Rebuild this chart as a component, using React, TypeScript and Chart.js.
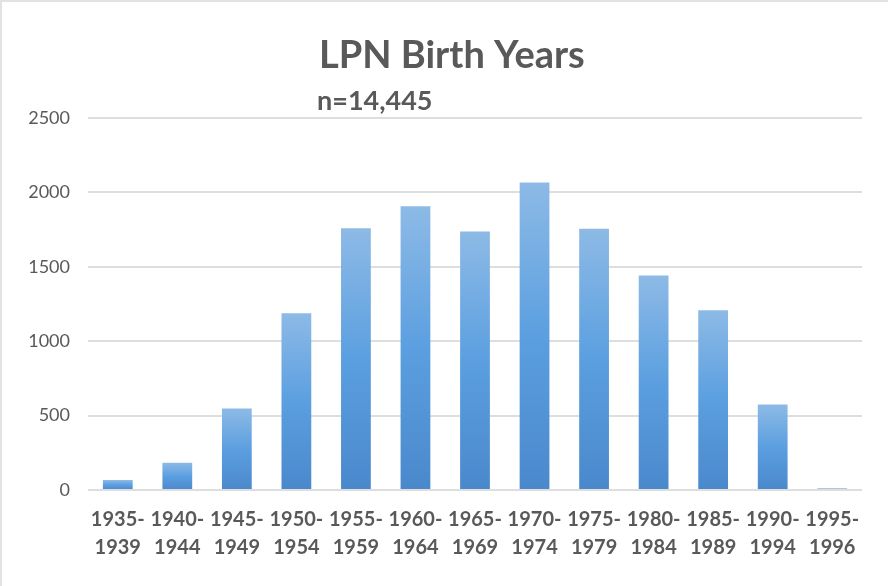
import React, { useEffect, useRef } from "react";
import { Chart, registerables } from "chart.js";

Chart.register(...registerables);

const categories: string[][] = [
  ["1935-", "1939"], ["1940-", "1944"], ["1945-", "1949"], ["1950-", "1954"],
  ["1955-", "1959"], ["1960-", "1964"], ["1965-", "1969"], ["1970-", "1974"],
  ["1975-", "1979"], ["1980-", "1984"], ["1985-", "1989"], ["1990-", "1994"],
  ["1995-", "1996"],
];
const counts: number[] = [67, 183, 547, 1188, 1759, 1907, 1737, 2066, 1755, 1441, 1208, 574, 10];
const titleText = "LPN Birth Years";
const subtitleText = "n=14,445";
const yTickValues: number[] = [0, 500, 1000, 1500, 2000, 2500];

const TEXT = "#595959";
const FONT = "Lato, 'Open Sans', sans-serif";

const titlePlugin = {
  id: "customTitles",
  afterDraw(chart: any) {
    const c = chart.ctx as CanvasRenderingContext2D;
    c.save();
    c.fillStyle = TEXT;
    c.textAlign = "left";
    c.textBaseline = "alphabetic";
    c.font = `bold 38px ${FONT}`;
    c.fillText(titleText, 317, 66);
    c.font = `bold 27px ${FONT}`;
    c.fillText(subtitleText, 315, 108);
    c.restore();
  },
};

export default function App() {
  const ref = useRef<HTMLCanvasElement | null>(null);
  useEffect(() => {
    if (!ref.current) return;
    const chart = new Chart(ref.current, {
      type: "bar",
      data: {
        labels: categories,
        datasets: [
          {
            data: counts,
            backgroundColor: (ctx: any) => {
              const ch = ctx.chart;
              if (!ch.chartArea || ctx.type !== "data" || !ch.scales.y) return "#5b9bd5";
              const ys = ch.scales.y;
              const top = ys.getPixelForValue(ctx.raw as number);
              const bottom = ys.getPixelForValue(0);
              if (!isFinite(top) || !isFinite(bottom) || bottom - top < 3) return "#4f8fd3";
              const g = ch.ctx.createLinearGradient(0, top, 0, bottom);
              g.addColorStop(0, "#8dbae6");
              g.addColorStop(0.5, "#5b9fe0");
              g.addColorStop(1, "#4a88cc");
              return g;
            },
            borderWidth: 0,
            barPercentage: 0.5,
            categoryPercentage: 1,
          },
        ],
      },
      options: {
        animation: false,
        responsive: false,
        maintainAspectRatio: false,
        layout: { padding: { left: 0, right: 26, top: 116, bottom: 14 } },
        plugins: {
          legend: { display: false },
          tooltip: { enabled: false },
          title: { display: false },
        },
        scales: {
          x: {
            grid: { display: false, drawTicks: false },
            border: { display: false },
            ticks: {
              color: TEXT,
              font: { family: FONT, size: 20, weight: "bold", lineHeight: 1.42 },
              padding: 15,
              maxRotation: 0,
              minRotation: 0,
              autoSkip: false,
            },
            afterFit: (s: any) => {
              s.height = 82;
            },
          },
          y: {
            min: 0,
            max: 2500,
            afterBuildTicks: (s: any) => {
              s.ticks = yTickValues.map((v) => ({ value: v }));
            },
            grid: { color: "#dedede", lineWidth: 2, drawTicks: false },
            border: { display: false },
            ticks: {
              color: TEXT,
              font: { family: FONT, size: 18 },
              padding: 18,
              callback: (v: any) => String(v),
            },
            afterFit: (s: any) => {
              s.width = 86;
            },
          },
        },
      },
      plugins: [titlePlugin],
    });
    return () => chart.destroy();
  }, []);

  return (
    <div
      style={{
        position: "absolute",
        left: 0,
        top: 0,
        width: 888,
        height: 586,
        boxSizing: "border-box",
        borderLeft: "2px solid #e2e2e2",
        borderTop: "2px solid #e2e2e2",
        background: "#fff",
      }}
    >
      <canvas ref={ref} width={886} height={584} style={{ display: "block" }} />
    </div>
  );
}
